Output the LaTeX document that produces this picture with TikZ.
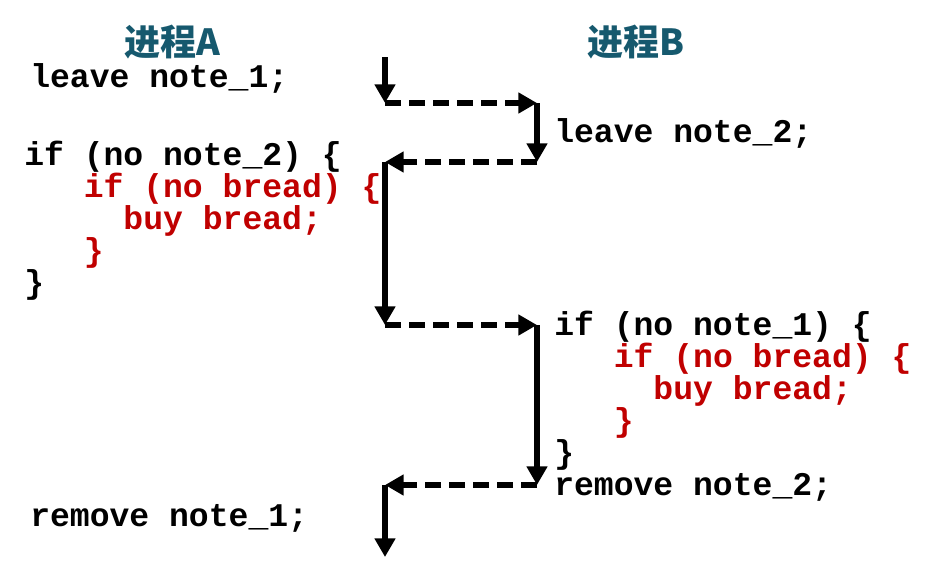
\documentclass[tikz,border=0pt]{standalone}
\usepackage{fontspec}
\setmonofont{Liberation Mono}
\newfontfamily\cjk{Noto Sans CJK SC}
\usetikzlibrary{arrows.meta}

\definecolor{titleblue}{RGB}{22,89,110}
\definecolor{breadred}{RGB}{192,0,0}
\newcommand{\codefont}{\fontsize{24.8}{24}\selectfont\ttfamily\bfseries}
\newcommand{\titlefont}{\fontsize{27}{27}\selectfont\cjk\bfseries}
\newcommand{\red}[1]{\textcolor{breadred}{#1}}

\begin{document}
\begin{tikzpicture}
[x=0.75pt,y=-0.75pt,
 code/.style={anchor=base west,inner sep=0pt,align=left,font=\codefont},
 title/.style={font=\titlefont,text=titleblue,inner sep=0pt},
 flow/.style={line width=4.2pt,-{Triangle[length=14pt,width=15pt]}},
 jump/.style={flow,dash pattern=on 12pt off 6pt}]

\useasboundingbox (0,0) rectangle (946,564);

% titles
\node (ta) [title] at (172,42) {进程A};
\node (tb) [title] at (636,42) {进程B};

% process A (multi-line blocks sit on their last baseline)
\node (a1code) [code] at (30,87) {leave note\_1;};
\node (a2code) [code] at (24,293)
	{if (no note\_2) \{\\
	\red{\phantom{xxx}if (no bread) \{}\\
	\red{\phantom{xxxxx}buy bread;}\\
	\red{\phantom{xxx}\}}\\
	\}};
\node (a3code) [code] at (30,526) {remove note\_1;};

% process B
\node (b1code) [code] at (554,142) {leave note\_2;};
\node (b2code) [code] at (554,495)
	{if (no note\_1) \{\\
	\red{\phantom{xxx}if (no bread) \{}\\
	\red{\phantom{xxxxx}buy bread;}\\
	\red{\phantom{xxx}\}}\\
	\}\\
	remove note\_2;};

% switching path
\coordinate (a0) at (385,57);
\coordinate (a1) at (385,103);
\coordinate (b1) at (537,103);
\coordinate (b2) at (537,162);
\coordinate (a2) at (385,162);
\coordinate (a3) at (385,325);
\coordinate (b3) at (537,325);
\coordinate (b4) at (537,485);
\coordinate (a4) at (385,485);
\coordinate (a5) at (385,557);

\draw [flow] (a0) -- (a1);
\draw [jump] (a1) -- (b1);
\draw [flow] (b1) -- (b2);
\draw [jump] (b2) -- (a2);
\draw [flow] (a2) -- (a3);
\draw [jump] (a3) -- (b3);
\draw [flow] (b3) -- (b4);
\draw [jump] (b4) -- (a4);
\draw [flow] (a4) -- (a5);
\end{tikzpicture}
\end{document}
